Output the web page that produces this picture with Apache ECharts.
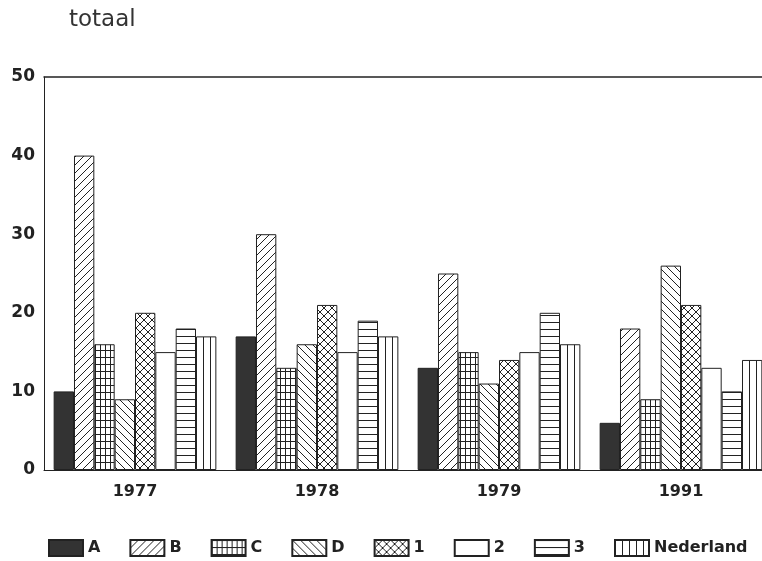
<!DOCTYPE html>
<html>
<head>
<meta charset="utf-8">
<script src="https://cdn.jsdelivr.net/npm/echarts@6/dist/echarts.min.js"></script>
<style>
  html, body { margin: 0; padding: 0; background: #fff; overflow: hidden; }
  /* the plot runs a few pixels past the right edge of the window */
  #chart { width: 772px; height: 561px; }
</style>
</head>
<body>
<div id="chart"></div>
<script>
// Years on the category axis
const years = ['1977', '1978', '1979', '1991'];

// Series values per year
const seriesNames = ['A', 'B', 'C', 'D', '1', '2', '3', 'Nederland'];
const valuesA = [10, 17, 13, 6];
const valuesB = [40, 30, 25, 18];
const valuesC = [16, 13, 15, 9];
const valuesD = [9, 16, 11, 26];
const values1 = [20, 21, 14, 21];
const values2 = [15, 15, 15, 13];
const values3 = [18, 19, 20, 10];
const valuesNederland = [17, 17, 16, 14];

// Y-axis scale
const yMin = 0, yMax = 50, yStep = 10;

const INK = '#222';

// Small repeating canvas tiles for the hatch fills
function tile(w, h, draw) {
  const c = document.createElement('canvas');
  c.width = w; c.height = h;
  const ctx = c.getContext('2d');
  ctx.fillStyle = '#fff';
  ctx.fillRect(0, 0, w, h);
  ctx.strokeStyle = INK;
  ctx.lineWidth = 1;
  draw(ctx, w, h);
  return { image: c, repeat: 'repeat' };
}
function line(ctx, x1, y1, x2, y2) {
  ctx.beginPath(); ctx.moveTo(x1, y1); ctx.lineTo(x2, y2); ctx.stroke();
}

const fills = {
  A: '#333',
  B: tile(8, 8, (c, w, h) => { line(c, -1, h + 1, w + 1, -1); line(c, -1, 1, 1, -1); line(c, w - 1, h + 1, w + 1, h - 1); }),
  C: tile(5, 7, (c, w, h) => { line(c, 0.5, 0, 0.5, h); line(c, 0, 0.5, w, 0.5); }),
  D: tile(8, 8, (c, w, h) => { line(c, -1, -1, w + 1, h + 1); line(c, w - 1, -1, w + 1, 1); line(c, -1, h - 1, 1, h + 1); }),
  '1': tile(8, 8, (c, w, h) => { line(c, -1, -1, w + 1, h + 1); line(c, -1, h + 1, w + 1, -1); }),
  '2': '#fff',
  '3': tile(8, 7, (c, w, h) => { line(c, 0, 0.5, w, 0.5); }),
  Nederland: tile(7, 8, (c, w, h) => { line(c, 0.5, 0, 0.5, h); })
};

const seriesValues = [valuesA, valuesB, valuesC, valuesD, values1, values2, values3, valuesNederland];

const chart = echarts.init(document.getElementById('chart'), null, { renderer: 'canvas' });

const textFont = 'DejaVu Sans, Arial, sans-serif';

chart.setOption({
  animation: false,
  backgroundColor: '#fff',
  title: {
    text: 'totaal',
    left: 69,
    top: 9,
    padding: 0,
    textStyle: { fontFamily: textFont, fontWeight: 'normal', fontSize: 23, color: '#333' }
  },
  grid: { left: 44, right: 0, top: 77, bottom: 91, containLabel: false },
  legend: {
    left: 48,
    top: 539,
    padding: 0,
    itemWidth: 34,
    itemHeight: 16,
    itemGap: 29,
    icon: 'rect',
    textStyle: { fontFamily: textFont, fontWeight: 'bold', fontSize: 16, color: INK },
    data: seriesNames
  },
  xAxis: [
    {
      type: 'category',
      data: years,
      axisLine: { lineStyle: { color: INK, width: 1 } },
      axisTick: { show: false },
      axisLabel: { margin: 14, fontFamily: textFont, fontWeight: 'bold', fontSize: 16, color: INK }
    },
    {
      type: 'category',
      position: 'top',
      data: years,
      axisLine: { lineStyle: { color: INK, width: 1.5 } },
      axisTick: { show: false },
      axisLabel: { show: false }
    }
  ],
  yAxis: {
    type: 'value',
    min: yMin,
    max: yMax,
    interval: yStep,
    axisLine: { show: true, lineStyle: { color: INK, width: 1 } },
    axisTick: { show: false },
    splitLine: { show: false },
    axisLabel: { margin: 9, fontFamily: textFont, fontWeight: 'bold', fontSize: 17, color: INK }
  },
  series: seriesNames.map((name, i) => ({
    name: name,
    type: 'bar',
    xAxisIndex: 0,
    data: seriesValues[i],
    barGap: '0%',
    barCategoryGap: '10.6%',
    itemStyle: { color: fills[name], borderColor: INK, borderWidth: 1 },
    emphasis: { disabled: true }
  }))
});
</script>
</body>
</html>
